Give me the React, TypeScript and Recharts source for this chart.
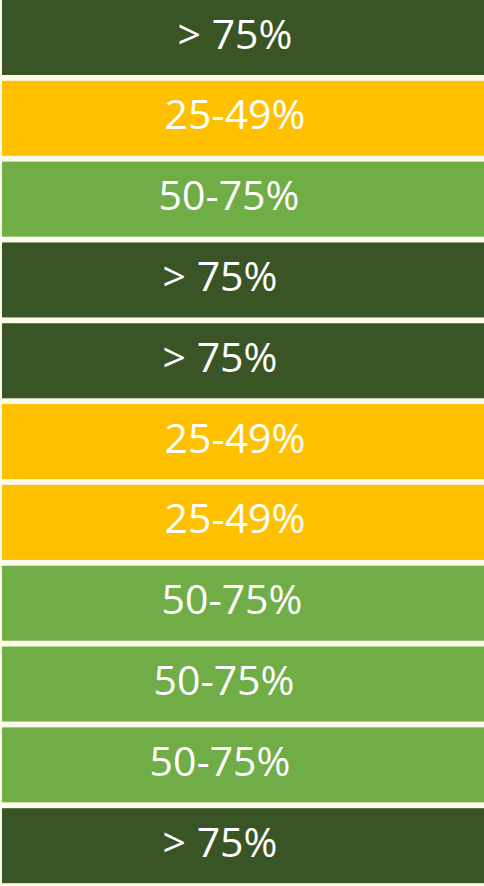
import React from 'react';
import { Bar, BarChart, Cell, XAxis, YAxis } from 'recharts';

// one row per band, top to bottom
const rowIds = ['r1', 'r2', 'r3', 'r4', 'r5', 'r6', 'r7', 'r8', 'r9', 'r10', 'r11'];
const tiers = [
  '> 75%',
  '25-49%',
  '50-75%',
  '> 75%',
  '> 75%',
  '25-49%',
  '25-49%',
  '50-75%',
  '50-75%',
  '50-75%',
  '> 75%',
];
// every band runs the full width
const shares = [100, 100, 100, 100, 100, 100, 100, 100, 100, 100, 100];

const tierColors: Record<string, string> = {
  '> 75%': '#3a5525',
  '50-75%': '#70ad47',
  '25-49%': '#ffc000',
};

// small horizontal nudges of the labels, as in the original
const labelShift = [-8, -8, -14, -23, -23, -8, -8, -11, -19, -23, -23];

const data = rowIds.map((id, i) => ({ id, tier: tiers[i], share: shares[i] }));

const BandShape = (props: any) => {
  const { x, y, width, height, index, payload } = props;
  const cx = x + width / 2 + (labelShift[index] ?? 0);
  return (
    <g>
      <rect x={x} y={y} width={width} height={height} fill={tierColors[payload.tier]} />
      <text
        x={cx}
        y={y + height / 2 - 5}
        textAnchor="middle"
        dominantBaseline="central"
        fill="#ffffff"
        fontFamily="'Open Sans', sans-serif"
        fontSize={41}
      >
        {payload.tier}
      </text>
    </g>
  );
};

const App = () => {
  return (
    <div
      style={{
        position: 'absolute',
        left: 0,
        top: -3,
        width: 484,
        height: 889,
        background: '#fdfbea',
      }}
    >
      <BarChart
        width={484}
        height={889}
        data={data}
        layout="vertical"
        margin={{ top: 0, right: 0, bottom: 0, left: 2 }}
        barCategoryGap={3}
      >
        <XAxis type="number" domain={[0, 100]} hide />
        <YAxis type="category" dataKey="id" hide />
        <Bar dataKey="share" isAnimationActive={false} shape={<BandShape />}>
          {data.map((d) => (
            <Cell key={d.id} fill={tierColors[d.tier]} />
          ))}
        </Bar>
      </BarChart>
    </div>
  );
};

export default App;
